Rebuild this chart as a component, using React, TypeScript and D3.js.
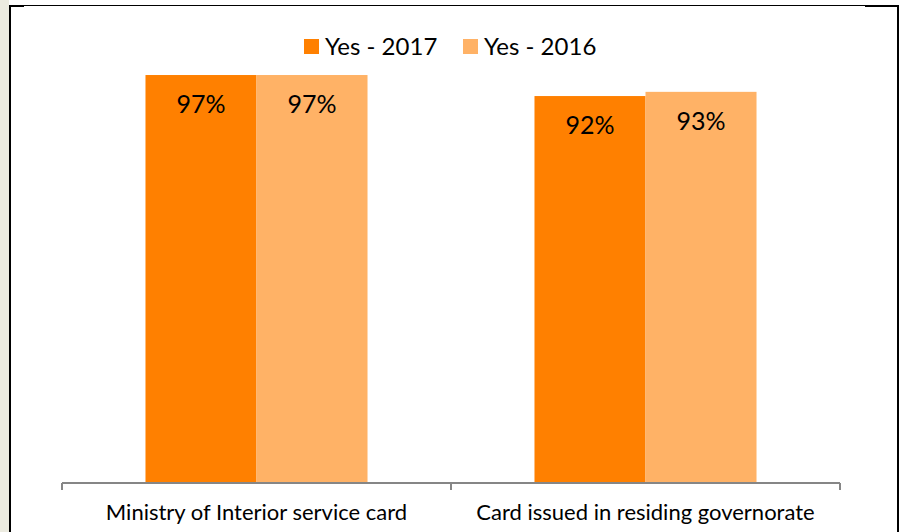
import React from "react";
import * as d3 from "d3";

// chart values
const categories = ["Ministry of Interior service card", "Card issued in residing governorate"];
const seriesNames = ["Yes - 2017", "Yes - 2016"];
const values2017 = [0.97, 0.92];
const values2016 = [0.97, 0.93];
const seriesColors = ["#FF8000", "#FFB266"];

const W = 901;
const H = 532;
const FONT = "Lato, 'Open Sans', sans-serif";

export default function App() {
  const seriesValues = [values2017, values2016];

  // outer scale: one band per category along the axis
  const x0 = d3.scaleBand<string>().domain(categories).range([62, 840]).paddingInner(0).paddingOuter(0);
  // inner scale: the two years inside a category
  const x1 = d3
    .scaleBand<string>()
    .domain(seriesNames)
    .range([0, x0.bandwidth()])
    .paddingInner(0)
    .paddingOuter(0.752);
  const y = d3.scaleLinear().domain([0, 1]).range([483, 62.4]);
  const fmt = d3.format(".0%");

  const axisY = y(0);
  const tickXs = [...categories.map((c) => x0(c)!), x0.range()[1]];

  return (
    <svg
      width={W}
      height={H}
      style={{ position: "absolute", left: 0, top: 0, background: "#fff" }}
    >
      {/* page strip and frame */}
      <rect x={0} y={0} width={9} height={H} fill="#ECEBE0" />
      <line x1={9} x2={899} y1={5.5} y2={5.5} stroke="#000" strokeWidth={1} />
      <line x1={9} x2={24} y1={6} y2={6} stroke="#000" strokeWidth={2} />
      <line x1={865} x2={899} y1={6} y2={6} stroke="#000" strokeWidth={2} />
      <line x1={10} x2={10} y1={5} y2={H} stroke="#000" strokeWidth={2} />
      <line x1={898} x2={898} y1={5} y2={H} stroke="#000" strokeWidth={2} />

      {/* legend */}
      <g fontFamily={FONT} fontSize={24} fill="#000">
        {seriesNames.map((s, i) => {
          const lx = i === 0 ? 304 : 463;
          return (
            <g key={s}>
              <rect x={lx} y={39} width={15} height={15} fill={seriesColors[i]} />
              <text x={lx + 21} y={55}>
                {s}
              </text>
            </g>
          );
        })}
      </g>

      {/* bars */}
      {categories.map((c, ci) => (
        <g key={c} transform={`translate(${x0(c)},0)`}>
          {seriesNames.map((s, si) => {
            const v = seriesValues[si][ci];
            const bx = x1(s)!;
            return (
              <g key={s}>
                <rect
                  x={bx}
                  y={y(v)}
                  width={x1.bandwidth()}
                  height={axisY - y(v)}
                  fill={seriesColors[si]}
                />
                <text
                  x={bx + x1.bandwidth() / 2}
                  y={y(v) + 38}
                  textAnchor="middle"
                  fontFamily={FONT}
                  fontSize={25}
                  fill="#000"
                >
                  {fmt(v)}
                </text>
              </g>
            );
          })}
        </g>
      ))}

      {/* category axis */}
      <line x1={62} x2={840} y1={axisY} y2={axisY} stroke="#868686" strokeWidth={2} />
      {tickXs.map((tx, i) => (
        <line key={i} x1={tx} x2={tx} y1={axisY} y2={axisY + 7} stroke="#868686" strokeWidth={2} />
      ))}
      {categories.map((c) => (
        <text
          key={c}
          x={x0(c)! + x0.bandwidth() / 2}
          y={520}
          textAnchor="middle"
          fontFamily={FONT}
          fontSize={22}
          fill="#000"
        >
          {c}
        </text>
      ))}
    </svg>
  );
}
